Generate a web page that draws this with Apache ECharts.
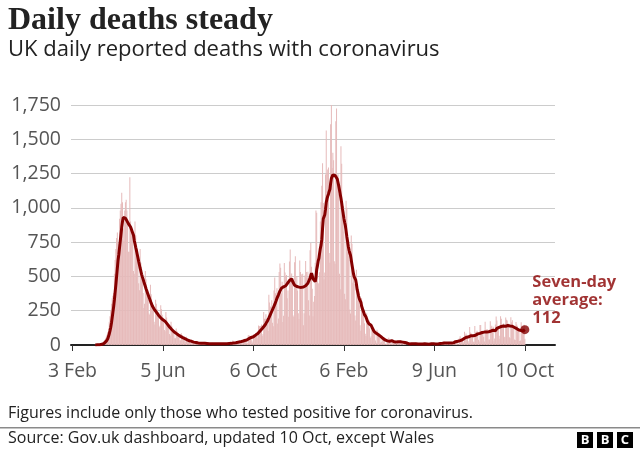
<!DOCTYPE html>
<html>
<head>
<meta charset="utf-8">
<script src="https://cdn.jsdelivr.net/npm/echarts@6/dist/echarts.min.js"></script>
<style>
html,body{margin:0;padding:0;background:#fff;}
#chart{width:640px;height:450px;}
</style>
</head>
<body>
<div id="chart"></div>
<script>
// ---- data ----
const axisStartDate = '2020-02-03';   // left end of the x axis
const dataStartDate = '2020-03-02';   // first value in the arrays below (Monday)

// daily reported deaths, one row per week (Mon..Sun)
const dailyDeaths = [
0,0,0,1,1,0,1,
1,2,3,5,6,12,14,
20,30,38,50,62,75,95,
120,170,210,250,300,340,360,
380,520,620,700,780,820,740,
660,920,980,1030,1110,1040,850,
760,980,1040,1060,980,920,680,
680,1224,900,840,800,760,540,
520,900,800,720,700,600,450,
400,700,600,520,480,380,270,
300,540,480,400,380,330,230,
220,440,370,310,290,260,170,
150,330,300,260,240,210,130,
140,290,260,220,200,180,110,
100,240,200,170,150,130,80,
70,170,140,115,105,90,50,
50,120,100,85,75,60,35,
35,85,70,60,50,42,25,
25,60,48,42,35,28,15,
15,40,32,28,24,18,10,
12,30,25,21,18,15,7,
7,22,18,15,13,11,5,
6,18,16,14,12,9,5,
5,16,14,13,11,8,4,
4,15,13,12,10,8,4,
4,15,14,12,11,9,4,
3,14,16,14,12,12,3,
4,32,12,14,11,14,5,
9,27,20,21,27,27,18,
11,37,37,40,34,34,17,
13,71,71,66,59,49,33,
19,76,70,77,87,81,65,
50,143,137,138,136,150,67,
80,241,191,189,224,174,151,
102,367,310,280,274,326,162,
136,397,492,378,355,413,156,
194,532,595,563,376,462,168,
213,598,529,501,511,341,398,
206,608,696,498,521,479,215,
205,603,648,414,504,397,231,
189,616,533,516,424,519,144,
232,506,612,532,489,534,326,
215,691,744,570,410,210,316,
357,600,981,964,613,445,454,
530,900,1041,1162,1325,1035,480,
529,1243,1564,1248,1280,1295,671,
599,1610,1820,1290,1401,1348,610,
592,1631,1725,1239,1245,1100,520,
406,1449,1322,915,1014,828,373,
333,1052,1001,678,758,621,258,
230,799,738,454,533,445,215,
178,548,442,323,345,290,144,
104,343,315,242,236,158,82,
65,231,190,175,181,121,52,
64,110,141,95,101,96,33,
17,112,98,70,70,58,19,
23,56,43,52,51,10,10,
9,26,45,53,40,34,7,
13,23,22,22,34,32,10,
4,33,29,18,32,32,17,
1,17,29,22,11,14,1,
1,4,13,14,17,11,5,
4,11,9,11,17,7,4,
1,7,9,7,12,5,5,
4,14,8,12,10,1,6,
1,3,12,18,11,12,4,
0,9,7,11,13,6,7,
3,9,19,19,11,14,6,
5,27,19,16,18,15,11,
3,23,14,18,18,18,15,
9,37,33,35,34,32,6,
6,50,63,49,51,41,25,
19,96,73,84,63,64,28,
14,131,91,85,68,65,24,
24,138,92,95,103,92,39,
26,146,146,94,93,89,61,
26,170,111,113,114,104,40,
40,174,131,140,100,133,28,
48,150,207,178,121,133,68,
45,209,191,147,147,156,56,
61,201,185,178,158,148,56,
49,203,165,180,136,121,41,
37,167,150,137,121,108,30,
33,166,143,131,120,148,45
];

// seven-day average, same days
const sevenDayAvg = [
null,null,null,0,0,0,1,
1,1,2,3,4,5,6,
9,12,17,22,28,36,46,
60,80,103,128,160,200,240,
280,330,385,440,500,560,620,
660,710,760,810,860,900,930,
940,935,925,915,905,895,885,
880,875,860,845,830,815,800,
762,738,712,688,662,636,610,
585,560,538,515,497,480,462,
445,428,410,395,380,365,350,
335,320,305,292,280,272,262,
255,247,240,232,225,217,210,
203,198,193,188,184,180,176,
172,166,160,152,145,138,131,
125,119,113,107,102,97,93,
89,85,81,77,73,70,67,
63,60,57,54,51,48,46,
42,40,37,35,33,31,30,
28,26,25,23,21,20,19,
18,17,16,15,14,14,13,
13,13,12,12,12,12,12,
11,11,11,11,10,10,10,
10,10,10,10,9,9,9,
9,9,9,9,9,9,9,
9,9,10,10,10,10,10,
10,10,11,11,11,12,12,
13,14,15,15,16,17,17,
18,20,21,22,23,25,26,
27,29,31,33,35,36,37,
38,43,47,51,53,55,55,
56,60,64,68,72,76,80,
84,90,96,102,108,114,120,
126,133,140,148,156,165,175,
186,198,210,222,234,246,258,
270,283,296,310,325,340,352,
366,380,393,404,413,418,420,
424,426,428,432,438,445,455,
462,470,478,484,482,470,455,
445,436,430,428,426,424,423,
422,421,420,420,420,421,423,
425,428,432,437,443,450,458,
462,488,508,523,505,482,474,
471,462,492,548,577,611,631,
670,705,730,770,850,921,930,
950,990,1040,1065,1085,1100,1120,
1135,1180,1215,1225,1240,1248,1240,
1236,1235,1225,1210,1185,1160,1130,
1100,1070,1035,995,960,922,895,
870,830,790,755,718,690,670,
655,620,585,552,520,497,485,
475,445,405,382,357,336,322,
312,286,267,254,238,221,210,
205,190,173,163,155,149,145,
144,130,120,109,99,94,91,
85,84,79,75,71,66,63,
64,57,49,46,43,37,35,
33,30,29,29,28,30,31,
31,30,27,24,22,22,22,
21,22,23,23,23,23,24,
23,21,21,21,18,16,14,
14,12,9,8,9,9,9,
10,11,10,10,10,9,9,
9,8,8,7,7,6,7,
7,8,8,9,8,8,8,
7,6,6,7,7,9,9,
9,9,9,8,8,7,8,
8,8,10,11,11,12,12,
12,14,14,14,15,15,16,
16,15,14,15,15,15,16,
16,18,21,24,26,28,27,
26,28,32,34,37,38,41,
43,49,51,56,57,61,61,
60,65,68,68,69,69,68,
70,71,71,72,77,81,83,
84,85,92,92,91,90,94,
94,97,92,95,98,100,97,
99,99,102,106,104,108,107,
108,104,115,121,124,124,129,
129,137,135,131,134,138,136,
138,137,136,141,142,141,141,
139,140,137,137,134,130,128,
126,121,119,113,111,109,107,
107,106,105,105,104,110,112
];

const tickDates  = ['2020-02-03','2020-06-05','2020-10-06','2021-02-06','2021-06-09','2021-10-10'];
const tickLabels = ['3 Feb','5 Jun','6 Oct','6 Feb','9 Jun','10 Oct'];
const yTicks = [0, 1750, 250]; // min, max, step

// ---- build ----
const DAY = 86400000;
const dayOf = s => Math.round((Date.parse(s) - Date.parse(axisStartDate)) / DAY);
const offset = dayOf(dataStartDate);
const tickDays = tickDates.map(dayOf);
const barData = dailyDeaths.map((v, i) => [offset + i, v]);
const lineData = sevenDayAvg.map((v, i) => [offset + i, v]);
const lastIdx = sevenDayAvg.length - 1;
const lastPoint = [offset + lastIdx, sevenDayAvg[lastIdx]];

const SANS = '"Open Sans", "Noto Sans", sans-serif';
const RED = '#850000';

const chart = echarts.init(document.getElementById('chart'), null, {renderer: 'canvas'});
chart.setOption({
  animation: false,
  backgroundColor: '#fff',
  grid: {left: 71, top: 105, width: 484, height: 240, containLabel: false},
  xAxis: {
    type: 'value', min: -2, max: 656,
    axisLine: {show: true, lineStyle: {color: '#222', width: 2}},
    axisTick: {show: true, length: 6, lineStyle: {color: '#333', width: 1}, customValues: tickDays},
    axisLabel: {
      customValues: tickDays, margin: 16, color: '#555', fontSize: 19.5, fontFamily: SANS,
      formatter: v => { const k = tickDays.indexOf(Math.round(v)); return k >= 0 ? tickLabels[k] : ''; }
    },
    splitLine: {show: false}
  },
  yAxis: {
    type: 'value', min: yTicks[0], max: yTicks[1], interval: yTicks[2],
    axisLine: {show: false}, axisTick: {show: false},
    axisLabel: {margin: 10, color: '#555', fontSize: 19.5, fontFamily: SANS},
    splitLine: {lineStyle: {color: '#cccccc', width: 1}}
  },
  series: [
    {
      type: 'bar', data: barData, barWidth: 1, z: 1,
      itemStyle: {color: '#e6baba'}, silent: true
    },
    {
      type: 'line', data: lineData, showSymbol: false, z: 3,
      lineStyle: {color: RED, width: 3}, connectNulls: false, silent: true
    },
    {
      type: 'scatter', data: [lastPoint], symbolSize: 9, z: 4,
      itemStyle: {color: RED},
      label: {
        show: true, position: 'right', distance: 3, offset: [0, -29],
        align: 'left', verticalAlign: 'middle',
        formatter: () => 'Seven-day\naverage:\n' + lastPoint[1],
        color: '#8a0000', fontWeight: 'bold', fontSize: 16.5, lineHeight: 18, fontFamily: SANS
      }
    }
  ],
  graphic: [
    {type: 'text', left: 8, top: 5, style: {text: 'Daily deaths steady', font: 'bold 32px "Liberation Serif", serif', fill: '#222'}},
    {type: 'text', left: 8, top: 39, style: {text: 'UK daily reported deaths with coronavirus', font: '22px ' + SANS, fill: '#222'}},
    {type: 'text', left: 8, top: 405, style: {text: 'Figures include only those who tested positive for coronavirus.', font: '16px ' + SANS, fill: '#222'}},
    {type: 'rect', shape: {x: 0, y: 427, width: 640, height: 1.5}, style: {fill: '#8a8a8a'}},
    {type: 'text', left: 8, top: 430, style: {text: 'Source: Gov.uk dashboard, updated 10 Oct, except Wales', font: '16px ' + SANS, fill: '#222'}},
    {type: 'group', left: 577, top: 432, children: [
      {type: 'rect', shape: {x: 0, y: 0, width: 16, height: 16}, style: {fill: '#000'}},
      {type: 'rect', shape: {x: 20, y: 0, width: 16, height: 16}, style: {fill: '#000'}},
      {type: 'rect', shape: {x: 40, y: 0, width: 16, height: 16}, style: {fill: '#000'}},
      {type: 'text', x: 8, y: 8.5, style: {text: 'B', font: 'bold 13px ' + SANS, fill: '#fff', textAlign: 'center', textVerticalAlign: 'middle'}},
      {type: 'text', x: 28, y: 8.5, style: {text: 'B', font: 'bold 13px ' + SANS, fill: '#fff', textAlign: 'center', textVerticalAlign: 'middle'}},
      {type: 'text', x: 48, y: 8.5, style: {text: 'C', font: 'bold 13px ' + SANS, fill: '#fff', textAlign: 'center', textVerticalAlign: 'middle'}}
    ]}
  ]
});
</script>
</body>
</html>
